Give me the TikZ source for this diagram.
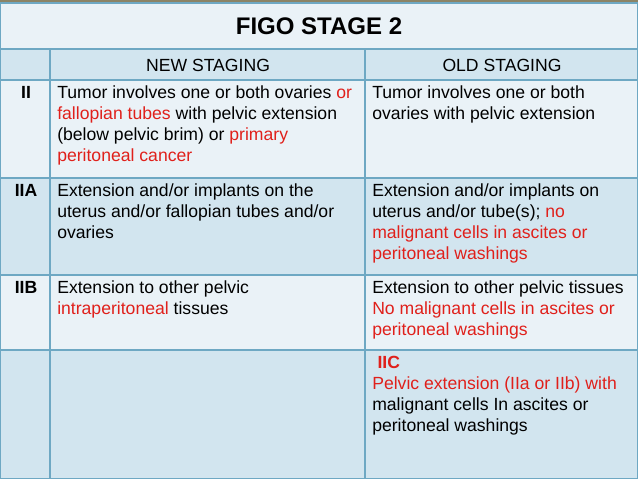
\documentclass[tikz,border=0pt]{standalone}
\usepackage{fontspec}
\setmainfont{Liberation Sans}
\usetikzlibrary{positioning}
\definecolor{lite}{HTML}{EAF2F7}
\definecolor{dark}{HTML}{D2E5EF}
\definecolor{rule}{HTML}{6EA8C3}
\definecolor{red2}{HTML}{E0201B}
\definecolor{top}{HTML}{8C8466}
\newcommand{\rd}[1]{\textcolor{red2}{#1}}

\begin{document}
\begin{tikzpicture}[x=0.75pt,y=-0.75pt,
    cell/.style={draw=rule,line width=0.9pt},
    txt/.style={anchor=north west,inner sep=0pt,align=left,font=\fontsize{13.2}{15.8}\selectfont},
    stage/.style={anchor=north,inner sep=0pt,font=\fontsize{13.2}{15.8}\selectfont\bfseries},
    head/.style={inner sep=0pt,font=\fontsize{13.2}{15}\selectfont}]
\useasboundingbox (0,0) rectangle (638,479);
\fill[top] (0,0) rectangle (638,3);
% rows
\fill[lite] (0,3) rectangle (638,49);
\fill[dark] (0,49) rectangle (638,80);
\fill[lite] (0,80) rectangle (638,178);
\fill[dark] (0,178) rectangle (638,275);
\fill[lite] (0,275) rectangle (638,350);
\fill[dark] (0,350) rectangle (638,479);
\draw[cell] (0.5,3) rectangle (637.5,478.5);
\foreach \y in {49,80,178,275,350}
    \draw[cell] (0,\y) -- (638,\y);
\foreach \x in {50,365}
    \draw[cell] (\x,49) -- (\x,479);
%
\node (title) [font=\fontsize{18}{20}\selectfont\bfseries] at (319,26) {FIGO STAGE 2};
\node (new) [head] at (208,65) {NEW STAGING};
\node (old) [head] at (502,65) {OLD STAGING};
%
\node (s2)  [stage] at (26,86)  {II};
\node (s2a) [stage] at (26,184) {IIA};
\node (s2b) [stage] at (26,281) {IIB};
%
\node (n2) [txt] at (57,85) {Tumor involves one or both ovaries \rd{or}\\
    \rd{fallopian tubes} with pelvic extension\\ (below pelvic brim) or \rd{primary}\\
    \rd{peritoneal cancer}};
\node (o2) [txt] at (372,85) {Tumor involves one or both\\ ovaries with pelvic extension};
\node (n2a) [txt] at (57,183) {Extension and/or implants on the\\
    uterus and/or fallopian tubes and/or\\ ovaries};
\node (o2a) [txt] at (372,183) {Extension and/or implants on\\
    uterus and/or tube(s); \rd{no}\\ \rd{malignant cells in ascites or}\\
    \rd{peritoneal washings}};
\node (n2b) [txt] at (57,280) {Extension to other pelvic\\ \rd{intraperitoneal} tissues};
\node (o2b) [txt] at (372,280) {Extension to other pelvic tissues\\
    \rd{No malignant cells in ascites or}\\ \rd{peritoneal washings}};
\node (o2c) [txt] at (372,356) {\hspace*{4pt}\rd{\bfseries IIC}\\
    \rd{Pelvic extension (IIa or IIb) with}\\ malignant cells In ascites or\\
    peritoneal washings};
\end{tikzpicture}
\end{document}
